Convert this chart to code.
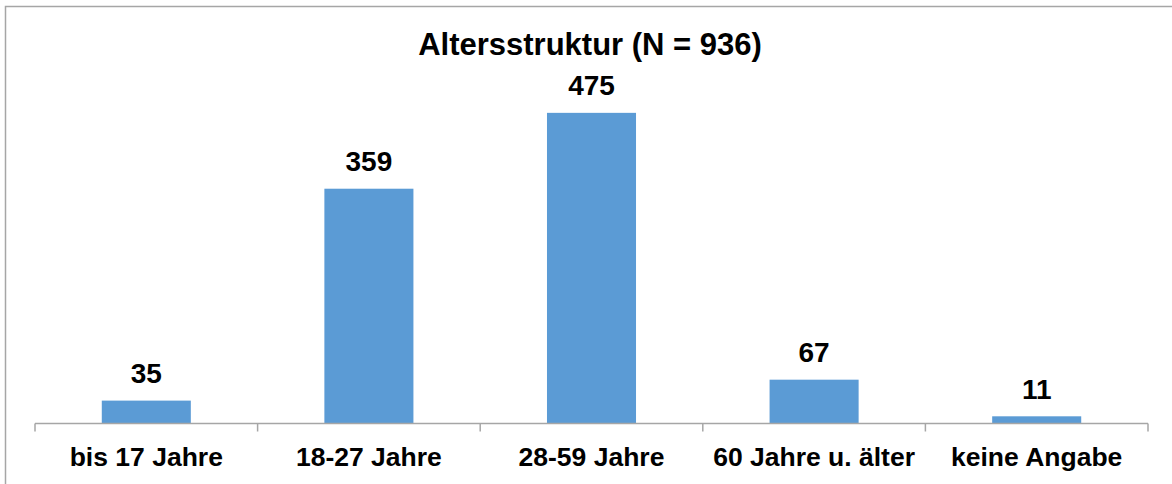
<!DOCTYPE html>
<html>
<head>
<meta charset="utf-8">
<script src="https://cdn.jsdelivr.net/npm/d3@7"></script>
<style>
  body { margin: 0; background: #fff; }
  text { font-family: 'Liberation Sans', Arial, sans-serif; font-weight: bold; fill: #000; }
</style>
</head>
<body>
<div id="chart"></div>
<script>
let categories = ['bis 17 Jahre', '18-27 Jahre', '28-59 Jahre', '60 Jahre u. älter', 'keine Angabe']
let values = [35, 359, 475, 67, 11]
let title = 'Altersstruktur (N = 936)'

let width = 1172
let height = 484
let margin = { top: 96.5, left: 35, right: 24, bottom: 60.5 }

let svg = d3
  .select('#chart')
  .append('svg')
  .attr('width', width)
  .attr('height', height)

// frame: only top and left edges are visible
svg
  .append('path')
  .attr('d', `M5.5,${height} V6.5 H${width}`)
  .attr('fill', 'none')
  .attr('stroke', '#a6a6a6')
  .attr('stroke-width', 1.5)

let x = d3
  .scaleBand()
  .domain(categories)
  .range([margin.left, width - margin.right])
  .paddingInner(0.6)
  .paddingOuter(0.3)

let y = d3
  .scaleLinear()
  .domain([0, 500])
  .range([height - margin.bottom, margin.top])

svg
  .selectAll('.bar')
  .data(values)
  .enter()
  .append('rect')
  .attr('class', 'bar')
  .attr('x', (d, i) => x(categories[i]))
  .attr('y', d => y(d))
  .attr('width', x.bandwidth())
  .attr('height', d => y(0) - y(d))
  .attr('fill', '#5b9bd5')

// axis line with ticks between categories
let axisG = svg
  .append('g')
  .attr('transform', `translate(0,${y(0)})`)
axisG
  .append('line')
  .attr('x1', margin.left)
  .attr('x2', width - margin.right)
  .attr('stroke', '#a6a6a6')
  .attr('stroke-width', 1.5)

let step = x.step()
let tickPos = d3.range(categories.length + 1).map(i => margin.left + i * step)
axisG
  .selectAll('.sep')
  .data(tickPos)
  .enter()
  .append('line')
  .attr('class', 'sep')
  .attr('x1', d => d)
  .attr('x2', d => d)
  .attr('y1', 0)
  .attr('y2', 8)
  .attr('stroke', '#a6a6a6')
  .attr('stroke-width', 1.5)

// category labels
svg
  .selectAll('.cat')
  .data(categories)
  .enter()
  .append('text')
  .attr('class', 'cat')
  .attr('x', d => x(d) + x.bandwidth() / 2)
  .attr('y', 465.5)
  .attr('text-anchor', 'middle')
  .attr('font-size', 26.5)
  .text(d => d)

// value labels
svg
  .selectAll('.val')
  .data(values)
  .enter()
  .append('text')
  .attr('class', 'val')
  .attr('x', (d, i) => x(categories[i]) + x.bandwidth() / 2)
  .attr('y', d => y(d) - 17.5)
  .attr('text-anchor', 'middle')
  .attr('font-size', 28)
  .text(d => d)

svg
  .append('text')
  .attr('x', 590)
  .attr('y', 55)
  .attr('text-anchor', 'middle')
  .attr('font-size', 31)
  .text(title)
</script>
</body>
</html>
